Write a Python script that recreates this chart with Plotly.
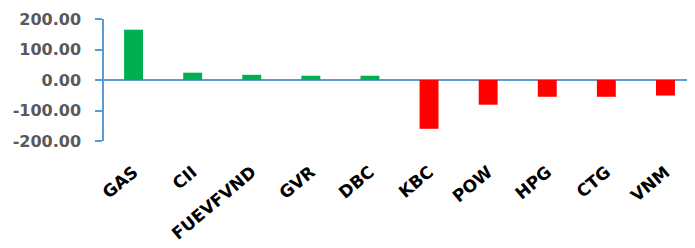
import plotly.graph_objects as go

categories = ["GAS", "CII", "FUEVFVND", "GVR", "DBC", "KBC", "POW", "HPG", "CTG", "VNM"]
values = [165, 24, 17, 14, 14, -160, -81, -55, -55, -51]
y_ticks = [-200, -100, 0, 100, 200]
y_tick_labels = ["-200.00", "-100.00", "0.00", "100.00", "200.00"]

colors = ["#00B050" if v >= 0 else "#FF0000" for v in values]

fig = go.Figure(go.Bar(x=categories, y=values, marker_color=colors, marker_line_width=0))

axis_blue = "#5B9BD5"
fig.update_layout(
    width=695, height=248,
    margin=dict(l=96, r=8, t=11, b=115, autoexpand=False),
    plot_bgcolor="white", paper_bgcolor="white",
    bargap=0.68, showlegend=False,
)
fig.update_xaxes(
    tickangle=-40,
    tickfont=dict(family="DejaVu Sans", size=17, color="black", weight="bold"),
    showline=False, showgrid=False, ticks="",
    ticklabelstandoff=17, automargin=False,
)
fig.update_yaxes(
    range=[-200, 200], tickvals=y_ticks, ticktext=y_tick_labels,
    tickfont=dict(family="DejaVu Sans", size=16, color="#595959", weight="bold"),
    showgrid=False, showline=True, linecolor=axis_blue, linewidth=1.5,
    ticks="outside", ticklen=7, tickcolor=axis_blue, tickwidth=1.5,
    zeroline=True, zerolinecolor=axis_blue, zerolinewidth=2,
    ticklabelstandoff=11, automargin=False,
)
fig.write_html("out.html")
